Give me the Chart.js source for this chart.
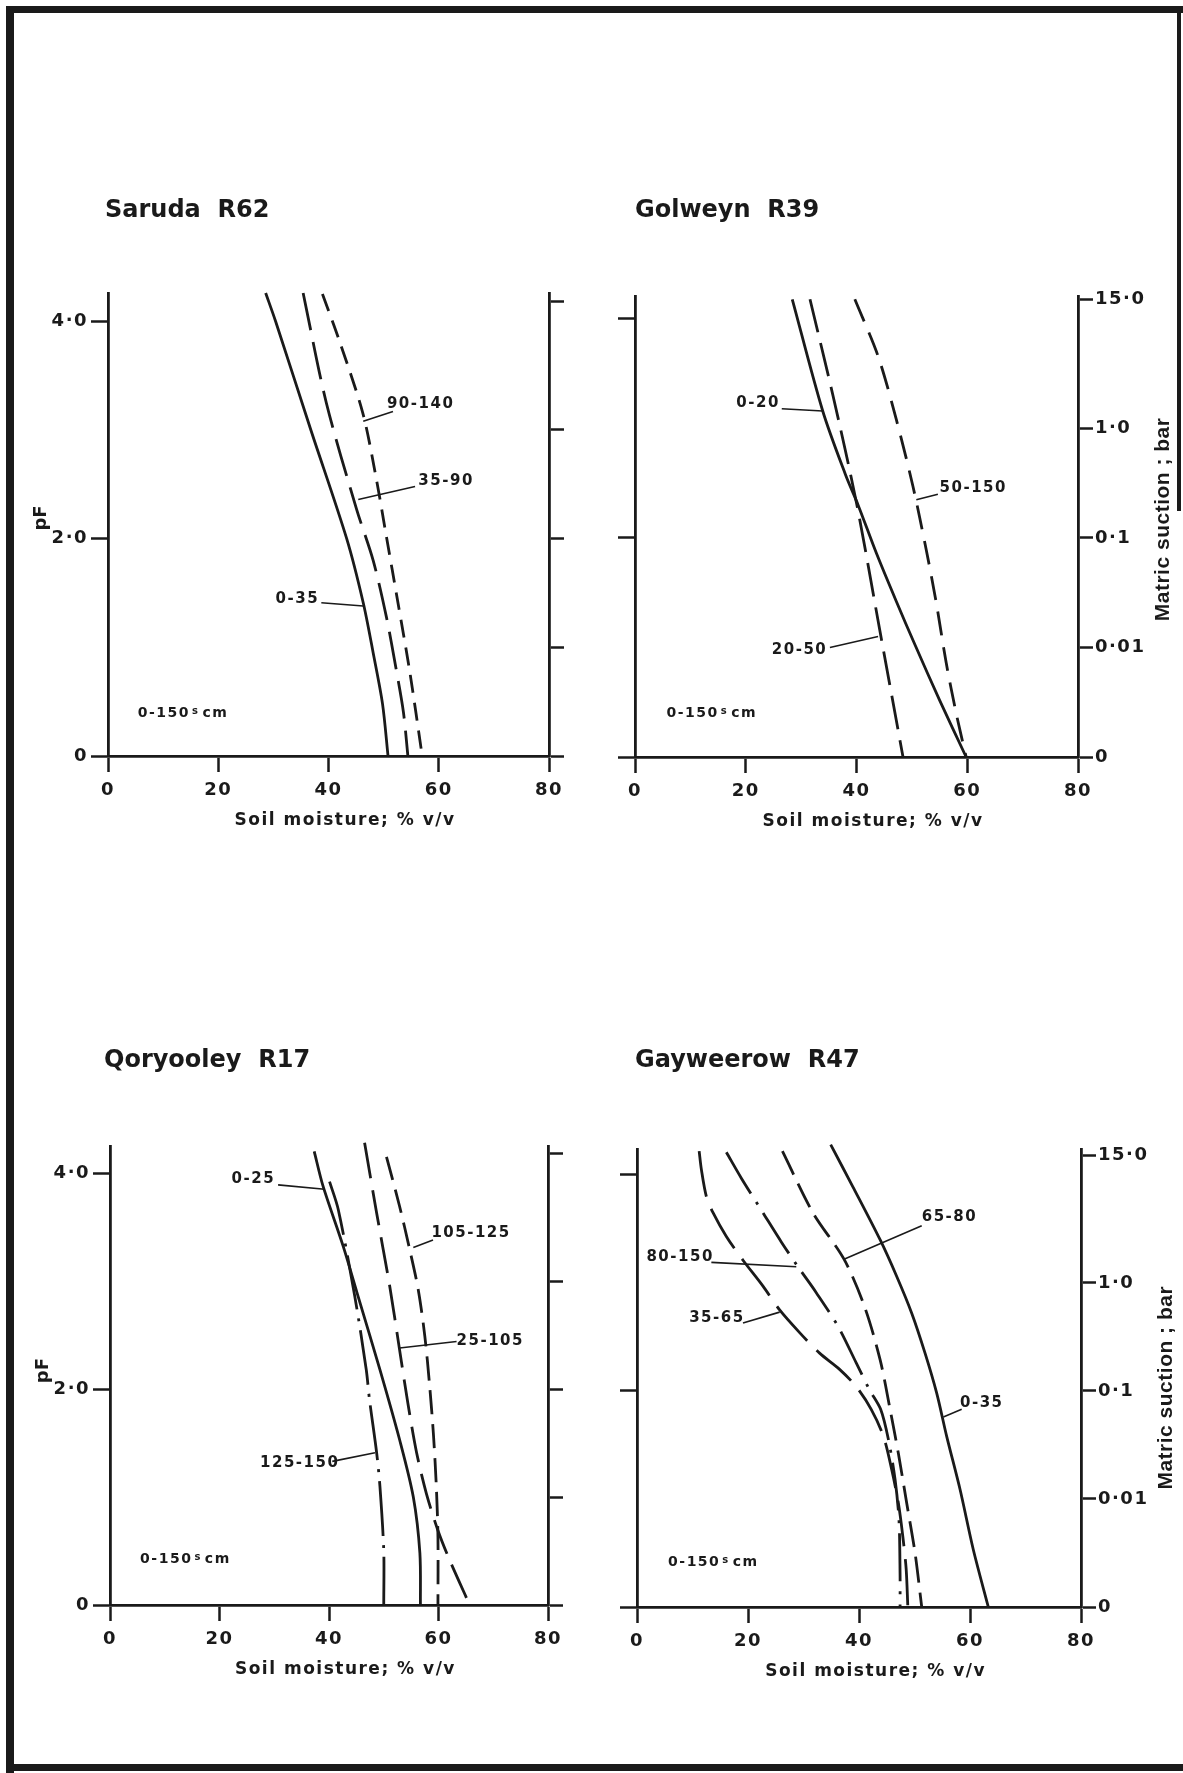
<!DOCTYPE html>
<html>
<head>
<meta charset="utf-8">
<script src="https://cdn.jsdelivr.net/npm/chart.js@4.4.1/dist/chart.umd.min.js"></script>
<style>
  body { margin: 0; background: #fff; width: 1183px; height: 1773px; position: relative; overflow: hidden; }
  .rule { position: absolute; background: #1a1a1a; }
  canvas { position: absolute; }
</style>
</head>
<body>
<div class="rule" style="left:6px;top:6px;width:1177px;height:7px"></div>
<div class="rule" style="left:6px;top:6px;width:8px;height:1767px"></div>
<div class="rule" style="left:6px;top:1764px;width:1177px;height:7px"></div>
<div class="rule" style="left:1177px;top:6px;width:4px;height:505px"></div>

<script>
// water retention curves, points are [soil moisture % v/v, pF], one array per depth (cm)
const saruda0to35 = [[28.6, 4.26], [30.4, 4.0], [36.8, 3.0], [43.3, 2.0], [46.3, 1.41], [48.1, 0.95], [49.8, 0.48], [50.8, 0]];
const saruda35to90 = [[35.4, 4.26], [39.6, 3.25], [45.1, 2.27], [48.1, 1.8], [50.5, 1.28], [52.3, 0.79], [53.6, 0.4], [54.4, 0]];
const saruda90to140 = [[38.9, 4.25], [41.7, 3.86], [46.2, 3.16], [48.6, 2.57], [50.5, 2.02], [52.6, 1.41], [54.7, 0.79], [57.0, 0]];

const golweyn0to20 = [[28.4, 4.18], [33.9, 3.16], [38.0, 2.58], [40.3, 2.3], [43.6, 1.86], [47.2, 1.42], [50.6, 1.02], [55.0, 0.52], [59.8, 0]];
const golweyn20to50 = [[31.6, 4.18], [35.8, 3.29], [40.0, 2.32], [44.2, 1.16], [48.4, 0]];
const golweyn50to150 = [[39.7, 4.18], [43.9, 3.66], [47.2, 3.08], [50.2, 2.47], [52.6, 1.89], [54.4, 1.41], [56.2, 0.86], [58.0, 0.4], [59.8, 0]];

const qoryooley0to25 = [[37.3, 4.2], [38.9, 3.88], [42.6, 3.32], [45.3, 2.86], [49.3, 2.18], [52.9, 1.53], [55.4, 1.0], [56.6, 0.48], [56.7, 0]];
const qoryooley25to105 = [[46.5, 4.28], [48.7, 3.63], [51.1, 2.95], [52.9, 2.36], [54.4, 1.87], [56.0, 1.41], [57.8, 1.03], [59.9, 0.69], [62.0, 0.42], [65.7, 0]];
const qoryooley105to125 = [[50.5, 4.15], [52.9, 3.69], [54.7, 3.3], [56.3, 2.92], [57.5, 2.49], [58.4, 2.02], [59.1, 1.56], [59.6, 1.1], [59.9, 0.63], [59.9, 0]];
const qoryooley125to150 = [[40.1, 3.92], [41.7, 3.66], [44.7, 2.86], [46.8, 2.18], [47.4, 1.9], [48.7, 1.41], [49.3, 1.1], [50.0, 0.5], [50.0, 0]];

const gayweerow0to35 = [[34.9, 4.28], [38.9, 3.89], [43.8, 3.4], [46.8, 3.06], [49.5, 2.72], [51.9, 2.35], [54.0, 1.98], [55.8, 1.58], [58.2, 1.09], [60.6, 0.53], [63.3, 0]];
const gayweerow65to80 = [[26.2, 4.22], [31.7, 3.65], [37.3, 3.22], [41.0, 2.78], [43.8, 2.29], [45.6, 1.83], [47.1, 1.42], [48.6, 0.96], [50.1, 0.5], [51.3, 0]];
const gayweerow80to150 = [[16.1, 4.21], [18.8, 3.97], [22.7, 3.65], [26.0, 3.38], [29.0, 3.15], [32.3, 2.91], [36.2, 2.6], [39.5, 2.26], [41.9, 2.01], [43.9, 1.83], [45.3, 1.55], [46.5, 1.18], [47.2, 0.81], [47.4, 0.3], [47.4, 0]];
const gayweerow35to65 = [[11.2, 4.22], [11.6, 4.05], [12.5, 3.8], [13.7, 3.65], [16.1, 3.43], [19.1, 3.21], [22.7, 2.97], [25.7, 2.75], [29.3, 2.54], [32.9, 2.35], [36.5, 2.2], [39.5, 2.04], [42.2, 1.83], [44.4, 1.58], [45.9, 1.27], [47.1, 0.96], [47.9, 0.65], [48.5, 0.35], [48.8, 0]];

// axis ticks
const moistureTicks = [0, 20, 40, 60, 80];
const pfTicks = [0, 2, 4];
const pfTickLabels = ['0', '2·0', '4·0'];
const suctionTicksPF = [0, 1, 2, 3, 4.18];
const suctionTickLabels = ['0', '0·01', '0·1', '1·0', '15·0'];

const ink = '#1a1a1a';
const WL = 100, WR = 125, PT = 180, HX = 110;
const tickFont = { family: 'DejaVu Sans', weight: 'bold', size: 18 };

const panels = [
  {
    title: 'Saruda  R62', titleX: 105, titleY: 217,
    x0: 108, x80: 549, base: 756, unit: 108.6, yTop: 4.26,
    leftLabels: true, rightLabels: false, pfLabelAt: 2.19,
    series: [
      { points: saruda0to35, dash: [] },
      { points: saruda35to90, dash: [38, 12] },
      { points: saruda90to140, dash: [18, 10] }
    ],
    labels: [['90-140', 50.6, 3.24], ['35-90', 56.3, 2.53], ['0-35', 30.4, 1.44]],
    leaders: [[46.3, 3.08, 51.7, 3.17], [45.4, 2.36, 55.7, 2.48], [38.7, 1.41, 46.3, 1.38]],
    note: [5.4, 0.39]
  },
  {
    title: 'Golweyn  R39', titleX: 635, titleY: 217,
    x0: 635, x80: 1078, base: 757, unit: 109.5, yTop: 4.21,
    leftLabels: false, rightLabels: true, suctionLabelAt: 2.17,
    series: [
      { points: golweyn0to20, dash: [] },
      { points: golweyn20to50, dash: [34, 11] },
      { points: golweyn50to150, dash: [24, 12] }
    ],
    labels: [['0-20', 18.3, 3.23], ['50-150', 55.0, 2.46], ['20-50', 24.7, 0.98]],
    leaders: [[26.5, 3.18, 33.9, 3.16], [50.8, 2.35, 54.7, 2.4], [35.2, 1.0, 43.9, 1.1]],
    note: [5.7, 0.4]
  },
  {
    title: 'Qoryooley  R17', titleX: 104, titleY: 1067,
    x0: 110, x80: 548, base: 1605, unit: 107.9, yTop: 4.25,
    leftLabels: true, rightLabels: false, pfLabelAt: 2.17,
    series: [
      { points: qoryooley0to25, dash: [] },
      { points: qoryooley25to105, dash: [36, 12] },
      { points: qoryooley105to125, dash: [24, 10] },
      { points: qoryooley125to150, dash: [55, 9, 3, 9] }
    ],
    labels: [['0-25', 22.2, 3.94], ['105-125', 58.7, 3.44], ['25-105', 63.3, 2.44], ['125-150', 27.4, 1.31]],
    leaders: [[30.7, 3.89, 39.2, 3.85], [55.4, 3.31, 59.0, 3.38], [52.9, 2.38, 63.3, 2.44], [40.6, 1.33, 48.4, 1.41]],
    note: [5.5, 0.42]
  },
  {
    title: 'Gayweerow  R47', titleX: 635, titleY: 1067,
    x0: 637, x80: 1081, base: 1607, unit: 108.1, yTop: 4.24,
    leftLabels: false, rightLabels: true, suctionLabelAt: 2.03,
    series: [
      { points: gayweerow0to35, dash: [] },
      { points: gayweerow65to80, dash: [26, 10] },
      { points: gayweerow80to150, dash: [48, 10, 3, 10] },
      { points: gayweerow35to65, dash: [46, 13] }
    ],
    labels: [['65-80', 51.3, 3.61], ['80-150', 1.7, 3.24], ['35-65', 9.4, 2.67], ['0-35', 58.2, 1.89]],
    leaders: [[37.3, 3.22, 51.3, 3.53], [13.4, 3.19, 28.7, 3.15], [19.1, 2.63, 25.7, 2.73], [55.2, 1.76, 58.5, 1.83]],
    note: [5.6, 0.41]
  }
];

// titles, curve labels, leaders and axis captions drawn on top of each panel
function panelText(p, left, top) {
  return {
    id: 'panelText',
    beforeDraw(chart) {
      chart.ctx.letterSpacing = '1.5px';
    },
    afterDraw(chart) {
      const { ctx, scales: { x, y } } = chart;
      const px = v => x.getPixelForValue(v);
      const py = v => y.getPixelForValue(v);
      ctx.save();
      ctx.strokeStyle = ink;
      ctx.fillStyle = ink;
      ctx.setLineDash([]);
      ctx.lineWidth = 1.6;
      p.leaders.forEach(([m1, f1, m2, f2]) => {
        ctx.beginPath();
        ctx.moveTo(px(m1), py(f1));
        ctx.lineTo(px(m2), py(f2));
        ctx.stroke();
      });

      ctx.textAlign = 'left';
      ctx.textBaseline = 'middle';
      ctx.letterSpacing = '1.5px';
      ctx.font = 'bold 15px "DejaVu Sans"';
      p.labels.forEach(([t, m, f]) => ctx.fillText(t, px(m), py(f)));

      // sampling depth note, with the small s
      let nx = px(p.note[0]);
      const ny = py(p.note[1]);
      ctx.font = 'bold 14px "DejaVu Sans"';
      ctx.fillText('0-150', nx, ny);
      nx += ctx.measureText('0-150').width + 2;
      ctx.font = 'bold 10px "DejaVu Sans"';
      ctx.fillText('s', nx, ny - 2);
      nx += ctx.measureText('s').width + 3;
      ctx.font = 'bold 14px "DejaVu Sans"';
      ctx.fillText('cm', nx, ny);

      ctx.textBaseline = 'alphabetic';
      ctx.letterSpacing = '0px';
      ctx.font = 'bold 24px "DejaVu Sans"';
      ctx.fillText(p.title, p.titleX - left, p.titleY - top);

      ctx.textAlign = 'center';
      ctx.letterSpacing = '1.5px';
      ctx.font = 'bold 17px "DejaVu Sans"';
      ctx.fillText('Soil moisture; % v/v', px(43), py(0) + 69);

      if (p.pfLabelAt !== undefined) {
        ctx.save();
        ctx.translate(px(0) - 67, py(p.pfLabelAt));
        ctx.rotate(-Math.PI / 2);
        ctx.textBaseline = 'middle';
        ctx.letterSpacing = '0px';
        ctx.font = 'bold 18px "DejaVu Sans"';
        ctx.fillText('pF', 0, 0);
        ctx.restore();
      }
      if (p.suctionLabelAt !== undefined) {
        ctx.save();
        ctx.translate(px(80) + 85, py(p.suctionLabelAt));
        ctx.rotate(-Math.PI / 2);
        ctx.textBaseline = 'middle';
        ctx.letterSpacing = '0.5px';
        ctx.font = 'bold 21px "Liberation Sans"';
        ctx.fillText('Matric suction ; bar', 0, 0);
        ctx.restore();
      }
      ctx.restore();
    }
  };
}

function axisGrid(len) {
  return { drawOnChartArea: false, drawTicks: true, tickLength: len, tickWidth: 2.5, color: ink, tickColor: ink };
}

panels.forEach(p => {
  const plotW = p.x80 - p.x0;
  const plotH = Math.round(p.yTop * p.unit);
  const top = p.base - plotH;
  const left = p.x0 - WL;
  const canvas = document.createElement('canvas');
  canvas.width = WL + plotW + WR;
  canvas.height = PT + plotH + HX;
  canvas.style.left = left + 'px';
  canvas.style.top = (top - PT) + 'px';
  document.body.appendChild(canvas);

  new Chart(canvas.getContext('2d'), {
    type: 'scatter',
    data: {
      datasets: p.series.map(s => ({
        data: s.points.map(([m, f]) => ({ x: m, y: f })),
        showLine: true,
        borderColor: ink,
        borderWidth: 2.8,
        borderDash: s.dash,
        borderCapStyle: 'butt',
        pointRadius: 0,
        tension: 0.3,
        fill: false,
        clip: false,
        yAxisID: 'y'
      }))
    },
    options: {
      responsive: false,
      animation: false,
      devicePixelRatio: 1,
      events: [],
      layout: { padding: { top: PT, left: 0, right: 0, bottom: 0 } },
      plugins: { legend: { display: false }, tooltip: { enabled: false } },
      scales: {
        x: {
          type: 'linear', position: 'bottom', min: 0, max: 80,
          afterBuildTicks: s => { s.ticks = moistureTicks.map(v => ({ value: v })); },
          afterFit: s => { s.height = HX; },
          ticks: { autoSkip: false, maxRotation: 0, padding: 8, color: ink, font: tickFont },
          grid: axisGrid(16),
          border: { display: true, color: ink, width: 2.8 }
        },
        y: {
          type: 'linear', position: 'left', min: 0, max: p.yTop,
          afterBuildTicks: s => { s.ticks = pfTicks.map(v => ({ value: v })); },
          afterFit: s => { s.width = WL; },
          ticks: {
            autoSkip: false, padding: 3, color: ink, font: tickFont,
            callback: (v, i) => p.leftLabels ? pfTickLabels[i] : ''
          },
          grid: axisGrid(17),
          border: { display: true, color: ink, width: 2.8 }
        },
        y2: {
          type: 'linear', position: 'right', min: 0, max: p.yTop,
          afterBuildTicks: s => { s.ticks = suctionTicksPF.map(v => ({ value: v })); },
          afterFit: s => { s.width = WR; },
          ticks: {
            autoSkip: false, padding: 2, color: ink, font: tickFont,
            callback: (v, i) => p.rightLabels ? suctionTickLabels[i] : ''
          },
          grid: axisGrid(15),
          border: { display: true, color: ink, width: 2.8 }
        }
      }
    },
    plugins: [panelText(p, left, top - PT)]
  });
});
</script>
</body>
</html>
